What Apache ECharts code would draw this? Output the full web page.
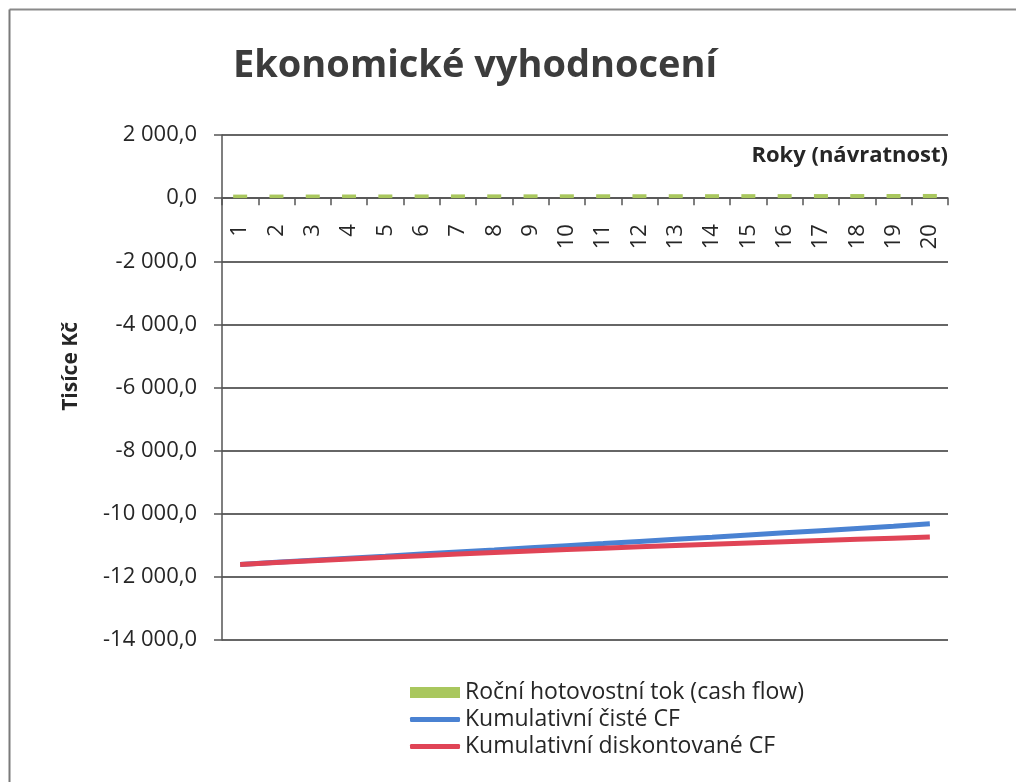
<!DOCTYPE html>
<html>
<head>
<meta charset="utf-8">
<script src="https://cdn.jsdelivr.net/npm/echarts@6/dist/echarts.min.js"></script>
<style>
  html, body { margin: 0; padding: 0; background: #fff; }
  #chart { width: 1016px; height: 782px; }
</style>
</head>
<body>
<div id="chart"></div>
<script>
(function () {
  const years = ["1", "2", "3", "4", "5", "6", "7", "8", "9", "10",
                 "11", "12", "13", "14", "15", "16", "17", "18", "19", "20"];

  // Roční hotovostní tok (tis. Kč)
  const cashFlow = [112, 113, 114, 115, 116, 117, 118, 119, 120, 121,
                    122, 123, 124, 125, 126, 127, 128, 129, 130, 132];

  // Kumulativní čisté CF
  const cumNet = [-11605, -11540, -11475, -11410, -11345, -11279, -11213, -11147, -11080, -11013,
                  -10946, -10878, -10810, -10742, -10673, -10604, -10535, -10465, -10395, -10320];

  // Kumulativní diskontované CF
  const cumDisc = [-11605, -11546, -11489, -11433, -11379, -11327, -11277, -11228, -11181, -11135,
                   -11091, -11048, -11006, -10965, -10925, -10886, -10848, -10811, -10775, -10740];

  const yMin = -14000, yMax = 2000, yStep = 2000;

  const font = "'Open Sans', 'Noto Sans', sans-serif";
  const ink = "#262626";
  const names = ["Roční hotovostní tok (cash flow)", "Kumulativní čisté CF", "Kumulativní diskontované CF"];
  const colors = ["#a9c75e", "#4a82d2", "#e04456"];

  // "-12000" → "-12 000,0"
  function fmtCz(v) {
    const neg = v < 0;
    const s = Math.abs(v).toFixed(0).replace(/\B(?=(\d{3})+(?!\d))/g, " ");
    return (neg ? "-" : "") + s + ",0";
  }

  const grid = { left: 222, top: 135, width: 726, height: 505 };
  // x axis sits on the zero line; move it up from the grid bottom
  const zeroOffset = grid.height * (0 - yMin) / (yMax - yMin);

  const chart = echarts.init(document.getElementById("chart"), null, { renderer: "canvas" });

  const legendText = { fontFamily: font, fontSize: 23, color: ink, lineHeight: 27 };

  chart.setOption({
    backgroundColor: "#fff",
    animation: false,
    textStyle: { fontFamily: font },
    title: {
      text: "Ekonomické vyhodnocení",
      left: 228,
      top: 42,
      textStyle: { fontFamily: font, fontSize: 38, fontWeight: "bold", color: "#3c3c3c" },
    },
    grid: { ...grid, containLabel: false },
    legend: [
      {
        orient: "vertical",
        left: 405,
        top: 674,
        itemWidth: 50,
        itemHeight: 11,
        itemGap: 0,
        icon: "rect",
        textStyle: legendText,
        data: [names[0]],
      },
      {
        orient: "vertical",
        left: 405,
        top: 701,
        itemWidth: 50,
        itemHeight: 5,
        itemGap: 0,
        icon: "roundRect",
        textStyle: legendText,
        data: [names[1], names[2]],
      },
    ],
    xAxis: {
      type: "category",
      data: years,
      boundaryGap: true,
      offset: -zeroOffset,
      axisLine: { onZero: false, lineStyle: { color: "#555", width: 1.5 } },
      axisTick: { show: true, length: 7, lineStyle: { color: "#555", width: 1.5 } },
      axisLabel: { rotate: 90, fontSize: 22, color: ink, margin: 26, fontFamily: font },
      splitLine: { show: false },
    },
    yAxis: {
      type: "value",
      min: yMin,
      max: yMax,
      interval: yStep,
      axisLine: { show: true, lineStyle: { color: "#555", width: 1.5 } },
      axisTick: { show: true, length: 8, lineStyle: { color: "#555", width: 1.5 } },
      axisLabel: { fontSize: 22, color: ink, margin: 25, fontFamily: font, formatter: fmtCz },
      splitLine: { show: true, lineStyle: { color: "#666", width: 1.8 } },
    },
    graphic: [
      // frame (left + top edge of the scanned chart box)
      { type: "line", shape: { x1: 9.5, y1: 9.5, x2: 1016, y2: 9.5 }, style: { stroke: "#8a8a8a", lineWidth: 2 } },
      { type: "line", shape: { x1: 9.5, y1: 9.5, x2: 9.5, y2: 782 }, style: { stroke: "#7a7a7a", lineWidth: 2 } },
      {
        type: "text",
        left: 61,
        top: 322,
        rotation: Math.PI / 2,
        style: { text: "Tisíce Kč", font: "bold 21px " + font, fill: ink },
      },
      {
        type: "text",
        right: 68,
        top: 145,
        style: { text: "Roky (návratnost)", font: "bold 22px " + font, fill: ink },
      },
    ],
    series: [
      {
        name: names[0],
        type: "bar",
        data: cashFlow,
        barWidth: 14,
        itemStyle: { color: colors[0] },
      },
      {
        name: names[1],
        type: "line",
        data: cumNet,
        symbol: "none",
        lineStyle: { color: colors[1], width: 5 },
        itemStyle: { color: colors[1] },
      },
      {
        name: names[2],
        type: "line",
        data: cumDisc,
        symbol: "none",
        lineStyle: { color: colors[2], width: 5 },
        itemStyle: { color: colors[2] },
      },
    ],
  });

  window.addEventListener("resize", () => chart.resize());
})();
</script>
</body>
</html>
